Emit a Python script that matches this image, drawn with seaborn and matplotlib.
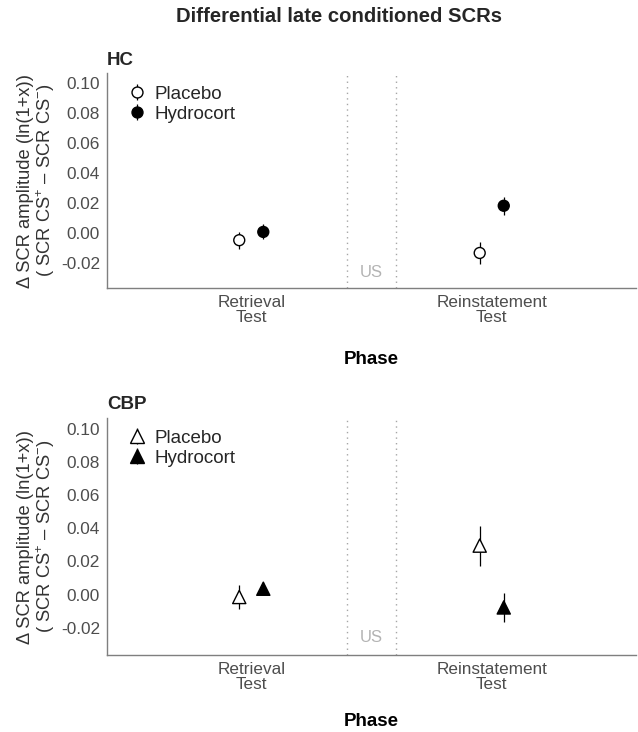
import matplotlib
matplotlib.use("Agg")
import matplotlib.pyplot as plt
from matplotlib.lines import Line2D
from matplotlib.legend_handler import HandlerTuple
import seaborn as sns
import pandas as pd
import numpy as np

# ---------------- data ----------------
phases = ["Retrieval\nTest", "Reinstatement\nTest"]
groups = ["Placebo", "Hydrocort"]

hc_placebo_mean = [-0.0047, -0.0132]
hc_placebo_se = [0.0056, 0.0075]
hc_hydro_mean = [0.0008, 0.0182]
hc_hydro_se = [0.0050, 0.0061]

cbp_placebo_mean = [-0.0015, 0.0295]
cbp_placebo_se = [0.0070, 0.0120]
cbp_hydro_mean = [0.0035, -0.0078]
cbp_hydro_se = [0.0040, 0.0088]

panel_titles = ["HC", "CBP"]
y_ticks = [-0.02, 0.00, 0.02, 0.04, 0.06, 0.08, 0.10]
y_limits = (-0.03, 0.10)

# ---------------- style ----------------
sns.set_theme(style="white")
plt.rcParams["font.family"] = ["Liberation Sans", "DejaVu Sans"]
plt.rcParams["mathtext.fontset"] = "custom"
plt.rcParams["mathtext.rm"] = "Liberation Sans"
plt.rcParams["mathtext.it"] = "Liberation Sans:italic"

TICK_COL = "#4d4d4d"
AX_COL = "#7f7f7f"

fig = plt.figure(figsize=(6.38, 7.32), dpi=100)
W, H = 638, 732
ax1 = fig.add_axes([107 / W, 1 - 288 / H, 529 / W, 215 / H])
ax2 = fig.add_axes([107 / W, 1 - 655 / H, 529 / W, 237 / H])

panels = [
    (ax1, "o", hc_placebo_mean, hc_placebo_se, hc_hydro_mean, hc_hydro_se, 62, 1.01, 19),
    (ax2, "^", cbp_placebo_mean, cbp_placebo_se, cbp_hydro_mean, cbp_hydro_se, 90, 1.015, 15),
]

dodge = 0.05
rng = y_limits[1] - y_limits[0]
ylim = (y_limits[0] - 0.05 * rng, y_limits[1] + 0.05 * rng)

for (ax, mk, pm, ps, hm, hs, msize, leg_y, xpad), title in zip(panels, panel_titles):
    rows = []
    for gi, (g, means, ses) in enumerate(zip(groups, [pm, hm], [ps, hs])):
        off = -dodge if gi == 0 else dodge
        for pi, ph in enumerate(phases):
            rows.append(dict(phase=ph, group=g, x=pi + 1 + off,
                             mean=means[pi], se=ses[pi]))
    df = pd.DataFrame(rows)

    # error bars
    ax.errorbar(df["x"], df["mean"], yerr=df["se"], fmt="none",
                ecolor="black", elinewidth=0.9, capsize=0, zorder=2)
    # points
    sns.scatterplot(data=df, x="x", y="mean", hue="group", hue_order=groups,
                    palette={"Placebo": "white", "Hydrocort": "black"},
                    marker=mk, s=msize, edgecolor="black", linewidth=1.0,
                    legend=False, ax=ax, zorder=3)

    # US region lines
    for xv in (1.4, 1.6):
        ax.axvline(xv, color="#a6a6a6", linestyle=(0, (1, 3)), linewidth=1.0, zorder=1)
    ax.text(1.5, -0.026, "US", color="#b3b3b3", fontsize=12,
            ha="center", va="center")

    ax.set_xlim(0.4, 2.6)
    ax.set_ylim(*ylim)
    ax.set_xticks([1, 2])
    ax.set_xticklabels(phases, color=TICK_COL, fontsize=12.3, linespacing=1.0)
    ax.set_yticks(y_ticks)
    ax.set_yticklabels([f"{v:.2f}" for v in y_ticks], color=TICK_COL, fontsize=12.4)
    ax.tick_params(axis="both", length=3, width=0.8, color=AX_COL, pad=2)
    for s in ("top", "right"):
        ax.spines[s].set_visible(False)
    for s in ("left", "bottom"):
        ax.spines[s].set_color(AX_COL)
        ax.spines[s].set_linewidth(1.0)

    ax.set_xlabel("Phase", fontsize=13.5, fontweight="bold", color="black", labelpad=xpad)
    ax.set_ylabel("Δ SCR amplitude (ln(1+x))\n( SCR CS$^{+}$ – SCR CS$^{-}$)",
                  fontsize=13.2, color="#333333", labelpad=3, linespacing=1.0)
    ax.text(0.0, 1.02, title, transform=ax.transAxes, fontsize=13.5,
            fontweight="bold", ha="left", va="bottom")

    # legend with vertical bar through the marker
    handles = []
    for g, fc in zip(groups, ["white", "black"]):
        bar = Line2D([], [], marker="|", markersize=11.5, color="black",
                     markeredgewidth=0.9, linestyle="none")
        pt = Line2D([], [], marker=mk, markersize=np.sqrt(msize),
                    markerfacecolor=fc, markeredgecolor="black",
                    markeredgewidth=1.0, linestyle="none")
        handles.append((bar, pt))
    ax.legend(handles, groups, handler_map={tuple: HandlerTuple(ndivide=1, pad=0)},
              loc="upper left", bbox_to_anchor=(0.01, leg_y), frameon=False,
              fontsize=13.5, handlelength=1.0, handletextpad=0.45,
              labelspacing=0.15, borderpad=0.3)

fig.text(339 / W, 1 - 17 / H, "Differential late conditioned SCRs",
         fontsize=14.6, fontweight="bold", ha="center", va="center")

fig.savefig("out.png", dpi=100)
